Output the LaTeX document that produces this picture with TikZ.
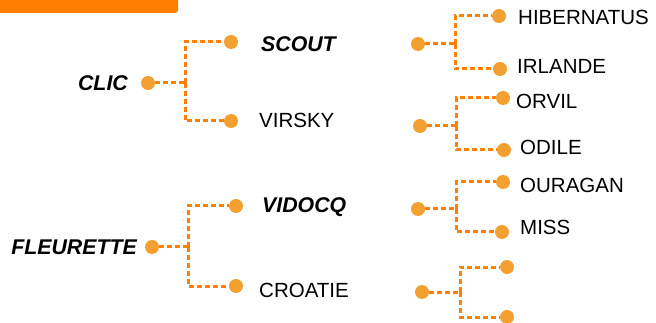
\documentclass[tikz,border=0pt]{standalone}
\usepackage{fontspec}
\setmainfont{Liberation Sans}
\begin{document}
\begin{tikzpicture}[x=1pt,y=-1pt,
  dot/.style={circle,fill=dotc,minimum size=14pt,inner sep=0pt},
  conn/.style={draw=linec,line width=3pt,dash pattern=on 5pt off 3pt},
  lbl/.style={anchor=west,inner sep=0pt,font=\fontsize{20.5}{24}\selectfont},
  blbl/.style={anchor=east,inner sep=0pt,font=\fontsize{21.3}{24}\selectfont\bfseries\itshape},
  bilbl/.style={anchor=west,inner sep=0pt,font=\fontsize{21.3}{24}\selectfont\bfseries\itshape}]
\definecolor{dotc}{HTML}{F4A030}
\definecolor{linec}{HTML}{FF8000}
\useasboundingbox (0,0) rectangle (656,323);
\fill[linec,rounded corners=3pt] (-5,-5) rectangle (178,13);
% level 1
\node[dot] (clic) at (148,83) {};
\node[dot] (fleur) at (152,247) {};
\node[blbl] (tclic) at (128,83) {CLIC};
\node[blbl] (tfleur) at (137,247) {FLEURETTE};
% level 2
\node[dot] (dscout) at (231,42) {};
\node[dot] (dvirsky) at (231,121) {};
\node[dot] (dvidocq) at (236,206) {};
\node[dot] (dcroatie) at (236,286) {};
\node[bilbl] (scout) at (261,44) {SCOUT};
\node[lbl] (virsky) at (259,120) {VIRSKY};
\node[bilbl] (vidocq) at (262,207) {VIDOCQ};
\node[lbl] (croatie) at (259,290) {CROATIE};
% level 2 right dots
\node[dot] (g1) at (418,44) {};
\node[dot] (g2) at (420,126) {};
\node[dot] (g3) at (418,209) {};
\node[dot] (g4) at (422,292) {};
% level 3
\node[dot] (d11) at (499,16) {};
\node[dot] (d12) at (500,69) {};
\node[dot] (d21) at (503,98) {};
\node[dot] (d22) at (504,150) {};
\node[dot] (d31) at (503,182) {};
\node[dot] (d32) at (502,232) {};
\node[dot] (d41) at (507,267) {};
\node[dot] (d42) at (507,317) {};
\node[lbl] (t11) at (518,17) {HIBERNATUS};
\node[lbl] (t12) at (517,66) {IRLANDE};
\node[lbl] (t21) at (516,101) {ORVIL};
\node[lbl] (t22) at (520,147) {ODILE};
\node[lbl] (t31) at (520,185) {OURAGAN};
\node[lbl] (t32) at (520,227) {MISS};
% junctions
\coordinate (jc) at (185,83);
\coordinate (jf) at (188,247);
\coordinate (j1) at (455,44);
\coordinate (j2) at (456,126);
\coordinate (j3) at (456,209);
\coordinate (j4) at (460,292);
\draw[conn] (clic) -- (jc); \draw[conn] (jc) |- (dscout); \draw[conn] (jc) |- (dvirsky);
\draw[conn] (fleur) -- (jf); \draw[conn] (jf) |- (dvidocq); \draw[conn] (jf) |- (dcroatie);
\draw[conn] (g1) -- (j1); \draw[conn] (j1) |- (d11); \draw[conn] (j1) |- (d12);
\draw[conn] (g2) -- (j2); \draw[conn] (j2) |- (d21); \draw[conn] (j2) |- (d22);
\draw[conn] (g3) -- (j3); \draw[conn] (j3) |- (d31); \draw[conn] (j3) |- (d32);
\draw[conn] (g4) -- (j4); \draw[conn] (j4) |- (d41); \draw[conn] (j4) |- (d42);
\end{tikzpicture}
\end{document}
